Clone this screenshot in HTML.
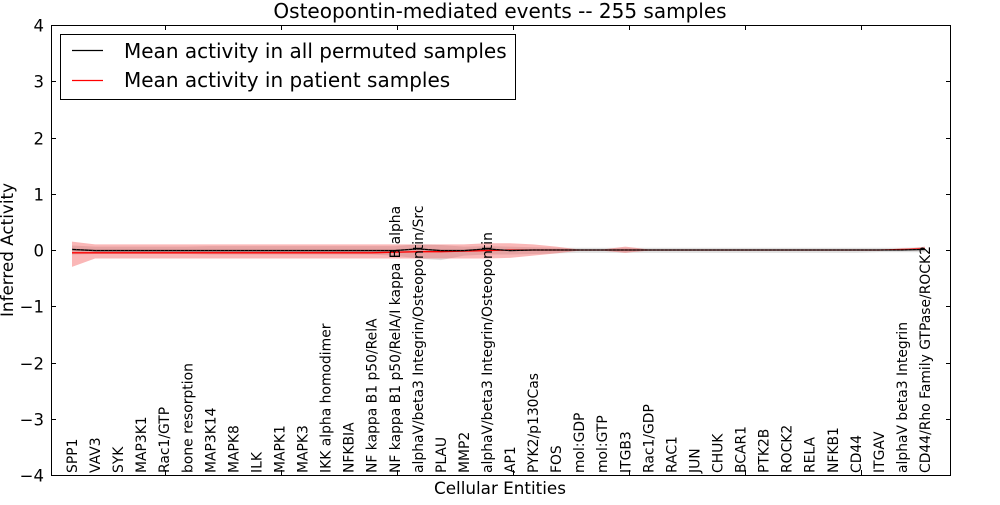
<!DOCTYPE html>
<html><head><meta charset="utf-8"><style>
body{margin:0;background:#fff;}
svg text{font-family:"DejaVu Sans","Liberation Sans",sans-serif;}
</style></head><body>
<svg id="chart" width="1000" height="500" xmlns="http://www.w3.org/2000/svg">
<text x="500" y="18" text-anchor="middle" font-size="20">Osteopontin-mediated events -- 255 samples</text>
<g id="bands"></g><g id="lines"></g><g id="axes"></g><g id="labels"></g>
<text x="500" y="494" text-anchor="middle" font-size="16.8">Cellular Entities</text>
<text transform="translate(13,250) rotate(-90)" text-anchor="middle" font-size="16.8">Inferred Activity</text>
<g>
<rect x="60.5" y="34.5" width="455" height="65" fill="#fff" stroke="#000"/>
<line x1="72" y1="50.5" x2="103" y2="50.5" stroke="#000" stroke-width="1.3"/>
<text x="124" y="58" font-size="20">Mean activity in all permuted samples</text>
<line x1="72" y1="80.5" x2="103" y2="80.5" stroke="#f00" stroke-width="1.3"/>
<text x="124" y="87" font-size="20">Mean activity in patient samples</text>
</g>
</svg>
<script>
const categories=["SPP1","VAV3","SYK","MAP3K1","Rac1/GTP","bone resorption","MAP3K14","MAPK8","ILK","MAPK1","MAPK3","IKK alpha homodimer","NFKBIA","NF kappa B1 p50/RelA","NF kappa B1 p50/RelA/I kappa B alpha","alphaV/beta3 Integrin/Osteopontin/Src","PLAU","MMP2","alphaV/beta3 Integrin/Osteopontin","AP1","PYK2/p130Cas","FOS","mol:GDP","mol:GTP","ITGB3","Rac1/GDP","RAC1","JUN","CHUK","BCAR1","PTK2B","ROCK2","RELA","NFKB1","CD44","ITGAV","alphaV beta3 Integrin","CD44/Rho Family GTPase/ROCK2"];
const permMean=[0.01,-0.01,-0.01,-0.01,-0.01,-0.01,-0.01,-0.01,-0.01,-0.01,-0.01,-0.01,-0.01,-0.01,-0.01,0.02,-0.01,-0.01,0.02,-0.01,0,0,0,0,0,0,0,0,0,0,0,0,0,0,0,0,0,0.01];
const permHi=[0.08,0.06,0.06,0.06,0.06,0.06,0.07,0.07,0.07,0.07,0.07,0.07,0.07,0.07,0.07,0.1,0.09,0.06,0.07,0.06,0.05,0.04,0.04,0.04,0.04,0.04,0.04,0.04,0.04,0.04,0.04,0.04,0.04,0.04,0.04,0.04,0.04,0.05];
const permLo=[-0.08,-0.07,-0.07,-0.07,-0.07,-0.07,-0.08,-0.08,-0.08,-0.08,-0.08,-0.08,-0.08,-0.08,-0.1,-0.15,-0.18,-0.1,-0.08,-0.08,-0.07,-0.06,-0.05,-0.05,-0.05,-0.05,-0.05,-0.05,-0.05,-0.05,-0.05,-0.05,-0.05,-0.05,-0.05,-0.04,-0.04,-0.04];
const patMean=[-0.05,-0.05,-0.05,-0.05,-0.05,-0.05,-0.05,-0.05,-0.05,-0.05,-0.05,-0.05,-0.05,-0.05,-0.04,-0.03,-0.03,-0.02,-0.01,0,0,0,0,0,0,0,0,0,0,0,0,0,0,0,0,0,0.01,0.02];
const patHi=[0.15,0.1,0.1,0.1,0.1,0.1,0.1,0.1,0.1,0.1,0.1,0.1,0.1,0.1,0.1,0.1,0.1,0.1,0.12,0.12,0.1,0.06,0.01,0.01,0.06,0.01,0.01,0.01,0.01,0.01,0.01,0.01,0.01,0.01,0.01,0.01,0.01,0.06];
const patLo=[-0.3,-0.15,-0.15,-0.15,-0.15,-0.15,-0.15,-0.15,-0.15,-0.15,-0.15,-0.15,-0.15,-0.15,-0.15,-0.15,-0.15,-0.15,-0.15,-0.14,-0.1,-0.06,-0.01,-0.01,-0.05,-0.01,-0.01,-0.01,-0.01,-0.01,-0.01,-0.01,-0.01,-0.01,-0.01,-0.01,-0.01,0];
const yTicks=[-4,-3,-2,-1,0,1,2,3,4];
const NS="http://www.w3.org/2000/svg";
const X0=51,X1=950,Y0=25,Y1=475;
const x=i=>72+i*(925-72)/(categories.length-1);
const y=v=>250-v*(Y1-Y0)/8;
function mk(tag,attrs,parent){const e=document.createElementNS(NS,tag);for(const k in attrs)e.setAttribute(k,attrs[k]);parent.appendChild(e);return e;}
const bands=document.getElementById('bands'),lines=document.getElementById('lines'),axes=document.getElementById('axes'),labels=document.getElementById('labels');
function band(hi,lo,fill,op,name){let d='M'+hi.map((v,i)=>x(i)+','+y(v)).join('L');for(let i=lo.length-1;i>=0;i--)d+='L'+x(i)+','+y(lo[i]);d+='Z';
const p=mk('path',{d:d,fill:fill,'fill-opacity':op},bands);

}
band(permHi,permLo,'#bbbbbb',0.45,'permuted-band');
band(patHi,patLo,'#f03030',0.35,'patient-band');
function line(vals,stroke,name,extra){const p=mk('polyline',Object.assign({points:vals.map((v,i)=>x(i)+','+y(v)).join(' '),fill:'none',stroke:stroke,'stroke-width':1.3},extra||{}),lines);

}
line(patMean,'#ff0000','patient-mean-line');
line(permMean,'#000000','permuted-mean-line');
line(permMean,'#333333','permuted-dotted-line',{'stroke-dasharray':'1,3','stroke-width':1});
const fr=mk('rect',{x:X0+0.5,y:Y0+0.5,width:X1-X0,height:Y1-Y0,fill:'none',stroke:'#000'},axes);


yTicks.forEach(t=>{const yy=Math.round(y(t))+0.5;
mk('line',{x1:X0,y1:yy,x2:X0+5,y2:yy,stroke:'#000'},axes);
mk('line',{x1:X1-4,y1:yy,x2:X1,y2:yy,stroke:'#000'},axes);
const tx=mk('text',{x:44,y:yy+6,'text-anchor':'end','font-size':16.5},axes);tx.textContent=(t<0?'\u2212'+(-t):t);

});
for(let k=0;k<7;k++){const xx=165+116*k+0.5;mk('line',{x1:xx,y1:Y0,x2:xx,y2:Y0+5,stroke:'#000'},axes);mk('line',{x1:xx,y1:Y1-5,x2:xx,y2:Y1,stroke:'#000'},axes);}
categories.forEach((c,i)=>{const t=mk('text',{transform:'translate('+(x(i)+5)+',473) rotate(-90)','font-size':13.9},labels);t.textContent=c;

});
</script>
</body></html>
